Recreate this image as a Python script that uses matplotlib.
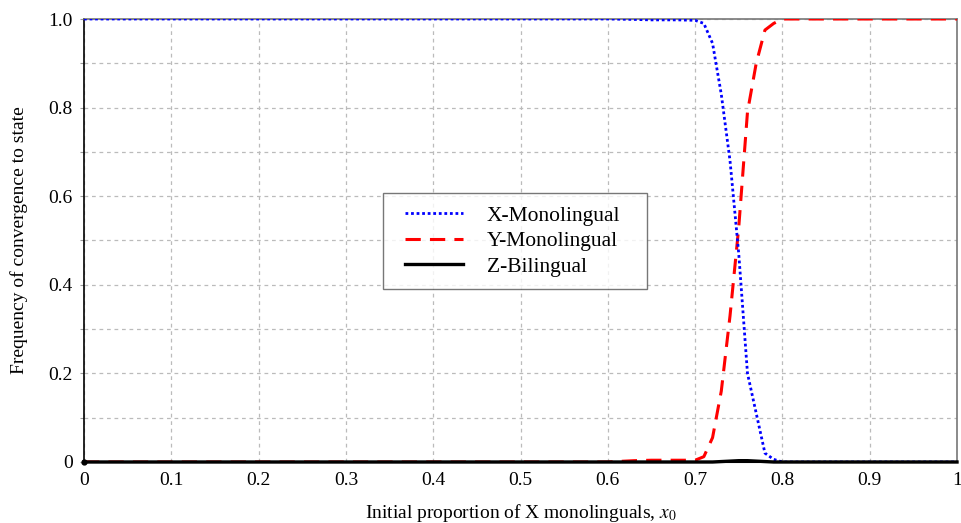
import matplotlib
matplotlib.use("Agg")
import matplotlib.pyplot as plt
import numpy as np

plt.rcParams['font.family'] = ['Liberation Serif', 'DejaVu Serif']
plt.rcParams['mathtext.fontset'] = 'stix'

# x values (initial proportion of X monolinguals)
x_vals = [0.0, 0.10, 0.20, 0.30, 0.40, 0.50, 0.60, 0.63, 0.65, 0.68, 0.70,
          0.71, 0.72, 0.73, 0.74, 0.75, 0.76, 0.77, 0.78, 0.79, 0.80,
          0.85, 0.90, 0.95, 1.00]
x_mono = [1.0, 1.0, 1.0, 1.0, 1.0, 1.0, 1.0, 0.999, 0.998, 0.998, 0.997,
          0.99, 0.945, 0.83, 0.68, 0.47, 0.20, 0.11, 0.02, 0.006, 0.0,
          0.0, 0.0, 0.0, 0.0]
y_mono = [0.0, 0.0, 0.0, 0.0, 0.0, 0.0, 0.0, 0.003, 0.004, 0.004, 0.004,
          0.012, 0.055, 0.16, 0.33, 0.53, 0.79, 0.90, 0.975, 0.99, 1.0,
          1.0, 1.0, 1.0, 1.0]
z_bi = [0.0, 0.0, 0.0, 0.0, 0.0, 0.0, 0.0, 0.0, 0.0, 0.0, 0.0,
        0.0, 0.0, 0.001, 0.002, 0.003, 0.003, 0.002, 0.001, 0.0, 0.0,
        0.0, 0.0, 0.0, 0.0]

x_ticks = [0, 0.1, 0.2, 0.3, 0.4, 0.5, 0.6, 0.7, 0.8, 0.9, 1]
x_tick_labels = ["0", "0.1", "0.2", "0.3", "0.4", "0.5", "0.6", "0.7", "0.8", "0.9", "1"]
y_ticks = [0, 0.2, 0.4, 0.6, 0.8, 1.0]
y_tick_labels = ["0", "0.2", "0.4", "0.6", "0.8", "1.0"]
series_labels = ['X-Monolingual', 'Y-Monolingual', 'Z-Bilingual']

fig = plt.figure(figsize=(9.62, 5.23), dpi=100)
ax = fig.add_axes([84/962, 61/523, 873/962, 443/523])

l_x, = ax.plot(x_vals, x_mono, color='blue', lw=2.0, ls=(0, (1, 1)), label=series_labels[0], zorder=5)
l_y, = ax.plot(x_vals, y_mono, color='red', lw=2.2, ls=(0, (5, 3)), label=series_labels[1], zorder=4)
l_z, = ax.plot(x_vals, z_bi, color='black', lw=2.4, label=series_labels[2], zorder=6, clip_on=False)

ax.set_xlim(0, 1)
ax.set_ylim(0, 1)
ax.set_xticks(x_ticks)
ax.set_xticklabels(x_tick_labels)
ax.set_yticks(y_ticks)
ax.set_yticklabels(y_tick_labels)
ax.set_yticks(np.arange(0.1, 1.0, 0.2), minor=True)

ax.grid(True, which='both', axis='y', color='#bbbbbb', ls=(0, (3, 3)), lw=0.9)
ax.grid(True, which='major', axis='x', color='#bbbbbb', ls=(0, (3, 3)), lw=0.9)
ax.tick_params(axis='both', which='both', labelsize=14, color='#999999', direction='out', width=0.8)
ax.tick_params(axis='x', length=0, pad=7)
ax.tick_params(axis='y', which='both', length=3, pad=5)

for s in ['top', 'right']:
    ax.spines[s].set_color('#777777')
    ax.spines[s].set_linewidth(1.2)
ax.spines['left'].set_color('black')
ax.spines['left'].set_linewidth(1.2)
ax.spines['bottom'].set_color('black')
ax.spines['bottom'].set_linewidth(1.5)

ax.plot([0], [0], 'o', color='black', ms=3.5, clip_on=False, zorder=7)

ax.set_xlabel(r'Initial proportion of X monolinguals, $x_0$', fontsize=14)
ax.set_ylabel('Frequency of convergence to state', fontsize=14)
ax.xaxis.set_label_coords(0.5, -0.115)
ax.xaxis.label.set_va('center')
ax.yaxis.set_label_coords(-0.0745, 0.5)
ax.yaxis.label.set_va('center')

fs = 15.5
extra_pt = 6.6      # extra left space before the handle line
line_pt = 41.8      # visible handle length
leg = ax.legend([l_x, l_y, l_z], series_labels,
                loc='upper left', bbox_to_anchor=(0.3425, 0.408, 0.3024, 0.2),
                mode='expand', fontsize=fs,
                frameon=True, fancybox=False, edgecolor='#555555',
                handlelength=(extra_pt + line_pt) / fs, handletextpad=1.1,
                borderpad=0.6, labelspacing=0.25, borderaxespad=0)
leg.get_frame().set_linewidth(1.0)
for ln in leg.get_lines():
    n = len(np.atleast_1d(ln.get_ydata()))
    x0 = np.min(ln.get_xdata())
    ln.set_xdata(np.linspace(x0 + extra_pt, x0 + extra_pt + line_pt, n))

fig.savefig('out.png', dpi=100)
